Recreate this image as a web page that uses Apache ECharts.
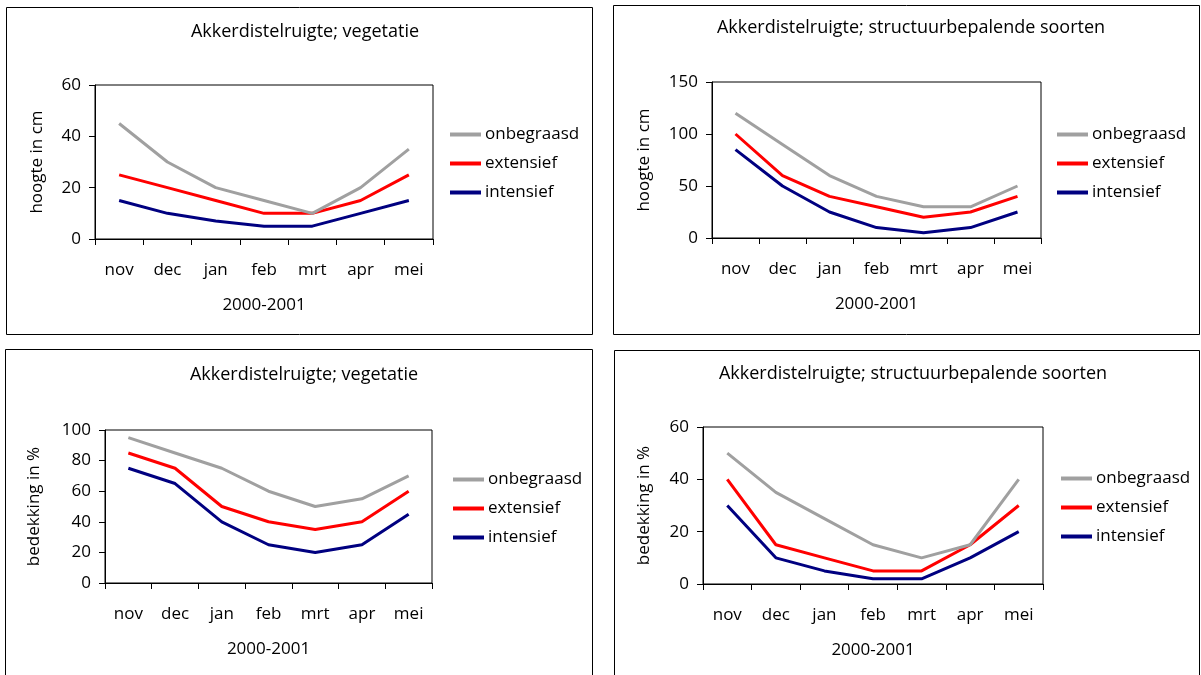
<!DOCTYPE html>
<html>
<head>
<meta charset="utf-8">
<script src="https://cdn.jsdelivr.net/npm/echarts@6/dist/echarts.min.js"></script>
<style>
  html, body { margin: 0; padding: 0; background: #fff; }
  #chart { width: 1201px; height: 675px; }
</style>
</head>
<body>
<div id="chart"></div>
<script>
// Months of the 2000-2001 season
const months = ['nov', 'dec', 'jan', 'feb', 'mrt', 'apr', 'mei'];
const seriesNames = ['onbegraasd', 'extensief', 'intensief'];
const seriesColors = ['#a0a0a0', '#ff0000', '#000080'];

// Vegetation height (cm)
const vegHeightOnbegraasd = [45, 30, 20, 15, 10, 20, 35];
const vegHeightExtensief  = [25, 20, 15, 10, 10, 15, 25];
const vegHeightIntensief  = [15, 10, 7, 5, 5, 10, 15];

// Height of structure-defining species (cm)
const strHeightOnbegraasd = [120, 90, 60, 40, 30, 30, 50];
const strHeightExtensief  = [100, 60, 40, 30, 20, 25, 40];
const strHeightIntensief  = [85, 50, 25, 10, 5, 10, 25];

// Vegetation cover (%)
const vegCoverOnbegraasd = [95, 85, 75, 60, 50, 55, 70];
const vegCoverExtensief  = [85, 75, 50, 40, 35, 40, 60];
const vegCoverIntensief  = [75, 65, 40, 25, 20, 25, 45];

// Cover of structure-defining species (%)
const strCoverOnbegraasd = [50, 35, 25, 15, 10, 15, 40];
const strCoverExtensief  = [40, 15, 10, 5, 5, 15, 30];
const strCoverIntensief  = [30, 10, 5, 2, 2, 10, 20];

// Y-axis ranges
const yMax = [60, 150, 100, 60];
const yStep = [20, 50, 20, 20];

const titleA = 'Akkerdistelruigte; vegetatie';
const titleB = 'Akkerdistelruigte; structuurbepalende soorten';
const xName = '2000-2001';

const FONT = 'Open Sans';
const LABEL_SIZE = 17;
const panels = [
  { title: titleA, tx: 300, ty: 18, yName: 'hoogte in cm', grid: { left: 95, top: 85, width: 338, height: 154 }, yGap: 49,
    legend: { left: 450, top: 126 }, data: [vegHeightOnbegraasd, vegHeightExtensief, vegHeightIntensief] },
  { title: titleB, tx: 906, ty: 14, yName: 'hoogte in cm', grid: { left: 712, top: 82, width: 329, height: 156 }, yGap: 59,
    legend: { left: 1057, top: 126 }, data: [strHeightOnbegraasd, strHeightExtensief, strHeightIntensief] },
  { title: titleA, tx: 299, ty: 361, yName: 'bedekking in %', grid: { left: 105, top: 430, width: 327, height: 153 }, yGap: 62,
    legend: { left: 453, top: 471 }, data: [vegCoverOnbegraasd, vegCoverExtensief, vegCoverIntensief] },
  { title: titleB, tx: 908, ty: 360, yName: 'bedekking in %', grid: { left: 703, top: 427, width: 340, height: 157 }, yGap: 50,
    legend: { left: 1061, top: 470 }, data: [strCoverOnbegraasd, strCoverExtensief, strCoverIntensief] }
];

const chart = echarts.init(document.getElementById('chart'), null, { renderer: 'canvas' });

const option = {
  animation: false,
  backgroundColor: '#ffffff',
  textStyle: { fontFamily: FONT, color: '#000' },
  title: panels.map(p => ({
    text: p.title, left: p.tx, top: p.ty, textAlign: 'center',
    textStyle: { fontFamily: FONT, fontSize: 18, fontWeight: 'normal', color: '#000' }
  })),
  legend: panels.map((p, i) => ({
    left: p.legend.left, top: p.legend.top, orient: 'vertical', padding: 0,
    icon: 'rect', itemWidth: 31, itemHeight: 4, itemGap: 12,
    textStyle: { fontFamily: FONT, fontSize: LABEL_SIZE, color: '#000', padding: [0, 0, 0, -1] },
    data: seriesNames.map(n => ({ name: n })),
    selectedMode: false
  })),
  grid: panels.map(p => Object.assign({ show: true, borderColor: '#000', borderWidth: 1, containLabel: false }, p.grid)),
  xAxis: panels.map((p, i) => ({
    gridIndex: i, type: 'category', data: months, boundaryGap: true,
    name: xName, nameLocation: 'middle', nameGap: 58,
    nameTextStyle: { fontFamily: FONT, fontSize: LABEL_SIZE, color: '#000' },
    axisLine: { lineStyle: { color: '#000', width: 1 } },
    axisTick: { show: true, length: 6, lineStyle: { color: '#000' } },
    axisLabel: { fontFamily: FONT, fontSize: LABEL_SIZE, color: '#000', margin: 23 },
    splitLine: { show: false }
  })),
  yAxis: panels.map((p, i) => ({
    gridIndex: i, type: 'value', min: 0, max: yMax[i], interval: yStep[i],
    name: p.yName, nameLocation: 'middle', nameGap: p.yGap,
    nameTextStyle: { fontFamily: FONT, fontSize: LABEL_SIZE, color: '#000' },
    axisLine: { show: true, lineStyle: { color: '#000', width: 1 } },
    axisTick: { show: true, length: 6, lineStyle: { color: '#000' } },
    axisLabel: { fontFamily: FONT, fontSize: LABEL_SIZE, color: '#000', margin: 14 },
    splitLine: { show: false }
  })),
  series: [],
  graphic: [
    { type: 'rect', shape: { x: 6.5, y: 7.5, width: 586, height: 327 }, style: { fill: 'none', stroke: '#000', lineWidth: 1 }, silent: true },
    { type: 'rect', shape: { x: 613.5, y: 5.5, width: 586, height: 329 }, style: { fill: 'none', stroke: '#000', lineWidth: 1 }, silent: true },
    { type: 'rect', shape: { x: 5.5, y: 349.5, width: 587, height: 340 }, style: { fill: 'none', stroke: '#000', lineWidth: 1 }, silent: true },
    { type: 'rect', shape: { x: 614.5, y: 350.5, width: 585, height: 340 }, style: { fill: 'none', stroke: '#000', lineWidth: 1 }, silent: true }
  ]
};

panels.forEach((p, i) => {
  p.data.forEach((vals, k) => {
    option.series.push({
      name: seriesNames[k], type: 'line', xAxisIndex: i, yAxisIndex: i,
      data: vals, showSymbol: false, symbol: 'none',
      lineStyle: { color: seriesColors[k], width: 3 },
      itemStyle: { color: seriesColors[k] },
      z: 10 - k
    });
  });
});

chart.setOption(option);
</script>
</body>
</html>
